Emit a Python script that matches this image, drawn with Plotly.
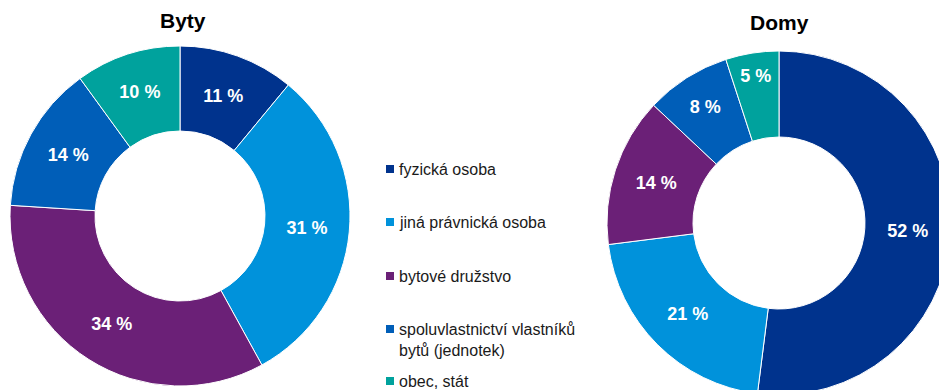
import plotly.graph_objects as go

# --- data -------------------------------------------------------------------
categories = [
    "fyzická osoba",
    "jiná právnická osoba",
    "bytové družstvo",
    "spoluvlastnictví vlastníků<br>bytů (jednotek)",
    "obec, stát",
]
byty_values = [11, 31, 34, 14, 10]
domy_values = [52, 21, 14, 8, 5]
colors = ["#00338D", "#0092DB", "#6B2077", "#005EB8", "#00A29D"]
panel_titles = ["Byty", "Domy"]

# --- layout helpers ---------------------------------------------------------
W, H = 960, 400            # drawing canvas
VIEW_W, VIEW_H = 939, 390  # visible part of the canvas on the page
FONT = "Liberation Sans Narrow, Arial Narrow, Liberation Sans, Arial, sans-serif"


def px(x):
    return x / W


def py(y):
    return 1 - y / H


def donut(values, name, cx, cy, r):
    return go.Pie(
        labels=[c.replace("<br>", " ") for c in categories],
        values=values,
        name=name,
        sort=False,
        direction="clockwise",
        rotation=0,
        hole=0.5,
        marker=dict(colors=colors, line=dict(color="white", width=1)),
        texttemplate="%{value} %",
        textposition="inside",
        insidetextorientation="horizontal",
        textfont=dict(family=FONT, size=18, color="white", weight="bold"),
        domain=dict(x=[px(cx - r), px(cx + r)], y=[py(cy + r), py(cy - r)]),
        showlegend=False,
        hovertemplate="%{label}: %{value} %<extra>" + name + "</extra>",
    )


fig = go.Figure()
fig.add_trace(donut(byty_values, panel_titles[0], 180, 216, 170))
fig.add_trace(donut(domy_values, panel_titles[1], 779, 223, 172))

annotations = []
shapes = []

# panel headings
for title, cx, cy in zip(panel_titles, [183, 779], [21, 22.5]):
    annotations.append(dict(
        text=title, x=px(cx), y=py(cy), xref="paper", yref="paper",
        xanchor="center", yanchor="middle", showarrow=False,
        font=dict(family=FONT, size=21, color="#000000", weight="bold"),
    ))

# shared legend: coloured square + label
legend_y = [169, 222, 276, 339.5, 381]
for label, color, y in zip(categories, colors, legend_y):
    sq_y = y if "<br>" not in label else y - 10.5
    shapes.append(dict(
        type="rect", xref="paper", yref="paper",
        x0=px(386), x1=px(394), y0=py(sq_y + 4), y1=py(sq_y - 4),
        fillcolor=color, line=dict(width=0),
    ))
    annotations.append(dict(
        text=label, x=px(397), y=py(y), xref="paper", yref="paper",
        xanchor="left", yanchor="middle", align="left", showarrow=False,
        font=dict(family=FONT, size=16, color="#1A1A1A"),
    ))

fig.update_layout(
    width=W,
    height=H,
    margin=dict(l=0, r=0, t=0, b=0),
    paper_bgcolor="white",
    plot_bgcolor="white",
    uniformtext=dict(minsize=18, mode="show"),
    annotations=annotations,
    shapes=shapes,
)

# show only the top-left VIEW_W x VIEW_H window of the canvas
post = (
    "var gd=document.getElementById('{plot_id}');"
    "var box=gd.parentElement;"
    "box.style.width='%dpx';box.style.height='%dpx';box.style.overflow='hidden';"
    "document.body.style.margin='0';document.body.style.overflow='hidden';"
) % (VIEW_W, VIEW_H)

fig.write_html("out.html", post_script=post, config={"displayModeBar": False})
